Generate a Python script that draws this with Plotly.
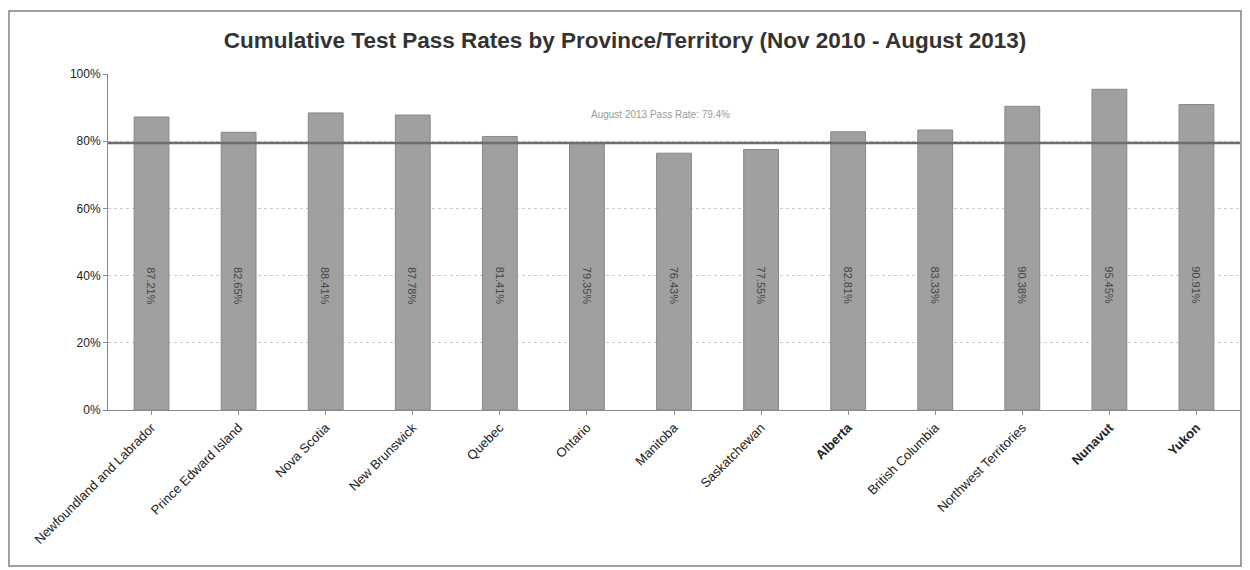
import plotly.graph_objects as go

provinces = ["Newfoundland and Labrador", "Prince Edward Island", "Nova Scotia", "New Brunswick",
             "Quebec", "Ontario", "Manitoba", "Saskatchewan", "Alberta", "British Columbia",
             "Northwest Territories", "Nunavut", "Yukon"]
pass_rates = [87.21, 82.65, 88.41, 87.78, 81.41, 79.35, 76.43, 77.55, 82.81, 83.33, 90.38, 95.45, 90.91]
bold_labels = ["Alberta", "Nunavut", "Yukon"]
national_rate = 79.45
national_label = "August 2013 Pass Rate: 79.4%"
y_ticks = [0, 20, 40, 60, 80, 100]
y_tick_text = ["0%", "20%", "40%", "60%", "80%", "100%"]

OFF = 8  # page body margin
W, H = 1250 - 2 * OFF, 570 - OFF
L, R, T, B = 108 - OFF, 10 - OFF, 74 - OFF, 160

fig = go.Figure()
fig.add_trace(go.Bar(
    x=provinces, y=pass_rates, width=0.4,
    marker=dict(color="#a0a0a0", line=dict(color="#888888", width=1)),
    hoverinfo="x+y",
))

for p, v in zip(provinces, pass_rates):
    fig.add_annotation(x=p, y=37, text=f"{v:.2f}%", textangle=90, showarrow=False,
                       font=dict(family="Liberation Sans", size=11, color="#444444"))

fig.add_shape(type="line", xref="paper", x0=0, x1=1, yref="y", y0=national_rate, y1=national_rate,
              line=dict(color="#6e6e6e", width=2.5))
pw, ph = W - L - R, H - T - B
fig.add_annotation(xref="paper", x=(660 - OFF - L) / pw, yref="y", y=88, text=national_label,
                   showarrow=False, font=dict(family="Liberation Sans", size=10, color="#9a9a9a"))

# outer chart border
fig.add_shape(type="rect", xref="paper", yref="paper",
              x0=(OFF + 1 - OFF - L) / pw, x1=(1250 - OFF - 1 - OFF - L) / pw,
              y0=-(566 - OFF - T - ph) / ph, y1=1 + (T - 3) / ph,
              line=dict(color="#808080", width=1.5), layer="below")

ticktext = [f"<b>{p}</b>" if p in bold_labels else p for p in provinces]

fig.update_layout(
    width=W, height=H,
    margin=dict(l=L, r=R, t=T, b=B),
    plot_bgcolor="white", paper_bgcolor="white",
    showlegend=False,
    title=dict(text="<b>Cumulative Test Pass Rates by Province/Territory (Nov 2010 - August 2013)</b>",
               x=0.5, xanchor="center", y=1 - (40 - OFF) / H, yanchor="middle",
               font=dict(family="Liberation Sans", size=22.5, color="#333333")),
    bargap=0.6,
)
fig.update_xaxes(tickangle=-45, tickmode="array", tickvals=provinces, ticktext=ticktext,
                 tickfont=dict(family="Liberation Sans", size=13, color="#222222"),
                 showline=True, linecolor="#8a8a8a", ticks="outside", tickcolor="#8a8a8a",
                 ticklen=4, showgrid=False)
fig.update_yaxes(range=[0, 100], tickvals=y_ticks, ticktext=y_tick_text,
                 tickfont=dict(family="Liberation Sans", size=12, color="#222222"),
                 showline=True, linecolor="#8a8a8a", ticks="outside", tickcolor="#8a8a8a", ticklen=4,
                 showgrid=True, gridcolor="#cccccc", griddash="dot", zeroline=False)

fig.write_html("out.html")
